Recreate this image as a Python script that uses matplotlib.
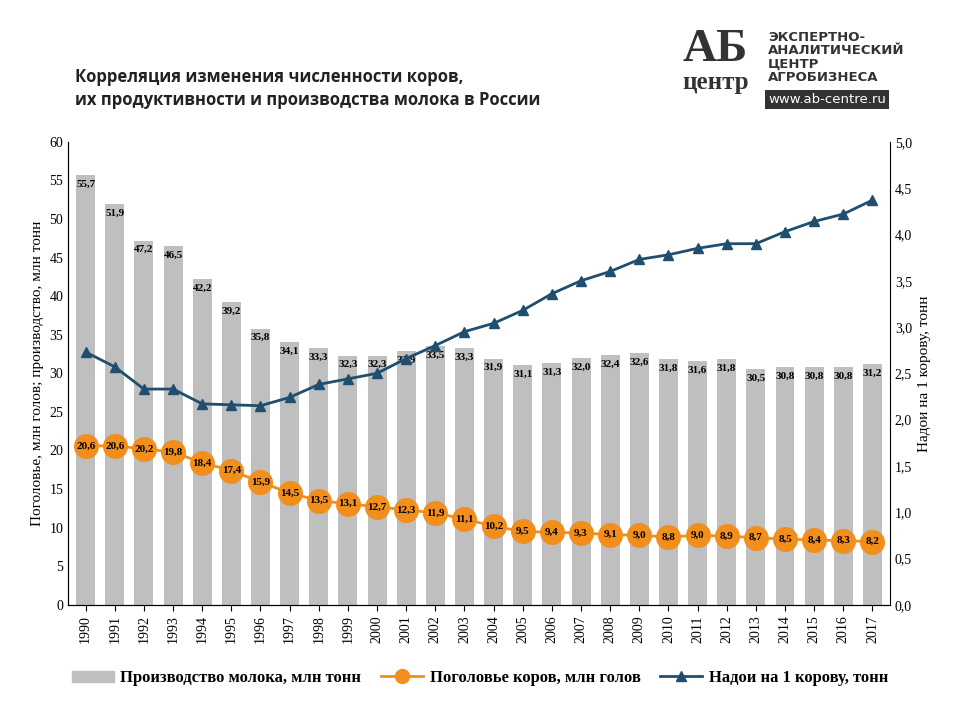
import numpy as np
import matplotlib.pyplot as plt
from matplotlib.lines import Line2D
from matplotlib.patches import Patch

years = [str(y) for y in range(1990, 2018)]
milk = [55.7, 51.9, 47.2, 46.5, 42.2, 39.2, 35.8, 34.1, 33.3, 32.3, 32.3, 32.9, 33.5, 33.3,
        31.9, 31.1, 31.3, 32.0, 32.4, 32.6, 31.8, 31.6, 31.8, 30.5, 30.8, 30.8, 30.8, 31.2]
cows = [20.6, 20.6, 20.2, 19.8, 18.4, 17.4, 15.9, 14.5, 13.5, 13.1, 12.7, 12.3, 11.9, 11.1,
        10.2, 9.5, 9.4, 9.3, 9.1, 9.0, 8.8, 9.0, 8.9, 8.7, 8.5, 8.4, 8.3, 8.2]
yields = [2.73, 2.57, 2.33, 2.33, 2.17, 2.16, 2.15, 2.24, 2.38, 2.44, 2.50, 2.66, 2.80, 2.95,
          3.04, 3.18, 3.36, 3.50, 3.60, 3.73, 3.78, 3.85, 3.90, 3.90, 4.03, 4.14, 4.22, 4.37]

serif = "Liberation Serif"
fmt = lambda v: f"{v:.1f}".replace(".", ",")

fig = plt.figure(figsize=(9.6, 7.2), dpi=100)
ax = fig.add_axes([0.071, 0.16, 0.856, 0.643])
x = np.arange(len(years))
ax.bar(x, milk, width=0.65, color="#bfbfbf", zorder=1)
for i, v in enumerate(milk):
    ax.text(i, v - 0.6, fmt(v), ha="center", va="top", fontsize=8, fontweight="bold",
            family=serif, zorder=5)
ax.plot(x, cows, color="#f28e1c", marker="o", markersize=17, lw=2, zorder=3)
for i, v in enumerate(cows):
    ax.text(i, v, fmt(v), ha="center", va="center", fontsize=8, fontweight="bold",
            family=serif, zorder=6)
ax.set_ylim(0, 60)
ax.set_yticks(range(0, 61, 5))
ax.set_xlim(-0.6, len(years) - 0.4)
ax.set_xticks(x)
ax.set_xticklabels(years, rotation=90, family=serif, fontsize=10)
for t in ax.get_yticklabels():
    t.set_family(serif)
ax.tick_params(axis="y", labelsize=10, length=0)
ax.tick_params(axis="x", length=4)
ax.set_ylabel("Поголовье, млн голов; производство, млн тонн", family=serif, fontsize=11)
for s in ["top", "right"]:
    ax.spines[s].set_visible(False)

ax2 = ax.twinx()
ax2.plot(x, yields, color="#1f4e6e", marker="^", markersize=7, lw=2, zorder=4)
ax2.set_ylim(0, 5)
ax2.set_yticks(np.arange(0, 5.01, 0.5))
ax2.set_yticklabels([fmt(v) for v in np.arange(0, 5.01, 0.5)], family=serif, fontsize=10)
ax2.tick_params(axis="y", length=0)
ax2.set_ylabel("Надои на 1 корову, тонн", family=serif, fontsize=11)
ax2.spines["top"].set_visible(False)

handles = [Patch(color="#bfbfbf"),
           Line2D([], [], color="#f28e1c", marker="o", markersize=10, lw=2),
           Line2D([], [], color="#1f4e6e", marker="^", markersize=7, lw=2)]
labels = ["Производство молока, млн тонн", "Поголовье коров, млн голов", "Надои на 1 корову, тонн"]
fig.legend(handles, labels, loc="center", bbox_to_anchor=(0.5, 0.058), ncol=3, frameon=False,
           prop={"family": serif, "weight": "bold", "size": 12}, handlelength=2.5,
           columnspacing=1.2, handletextpad=0.4)

fig.text(0.078, 0.905, "Корреляция изменения численности коров,\nих продуктивности и производства молока в России",
         fontsize=12, fontweight="bold", va="top", color="#222222", linespacing=1.3, family="Open Sans")
fig.text(0.745, 0.93, "АБ", fontsize=34, fontweight="bold", family=serif, ha="center", va="center",
         color="#333333")
fig.text(0.745, 0.885, "центр", fontsize=18, fontweight="bold", family=serif, ha="center", va="center",
         color="#333333")
fig.text(0.80, 0.92, "ЭКСПЕРТНО-\nАНАЛИТИЧЕСКИЙ\nЦЕНТР\nАГРОБИЗНЕСА", fontsize=9.5, va="center",
         color="#333333", linespacing=1.05, fontweight="bold")
fig.text(0.80, 0.862, "www.ab-centre.ru", fontsize=9.5, va="center", color="white",
         bbox=dict(facecolor="#333333", edgecolor="none", pad=2))

fig.savefig("out.png", dpi=100)
